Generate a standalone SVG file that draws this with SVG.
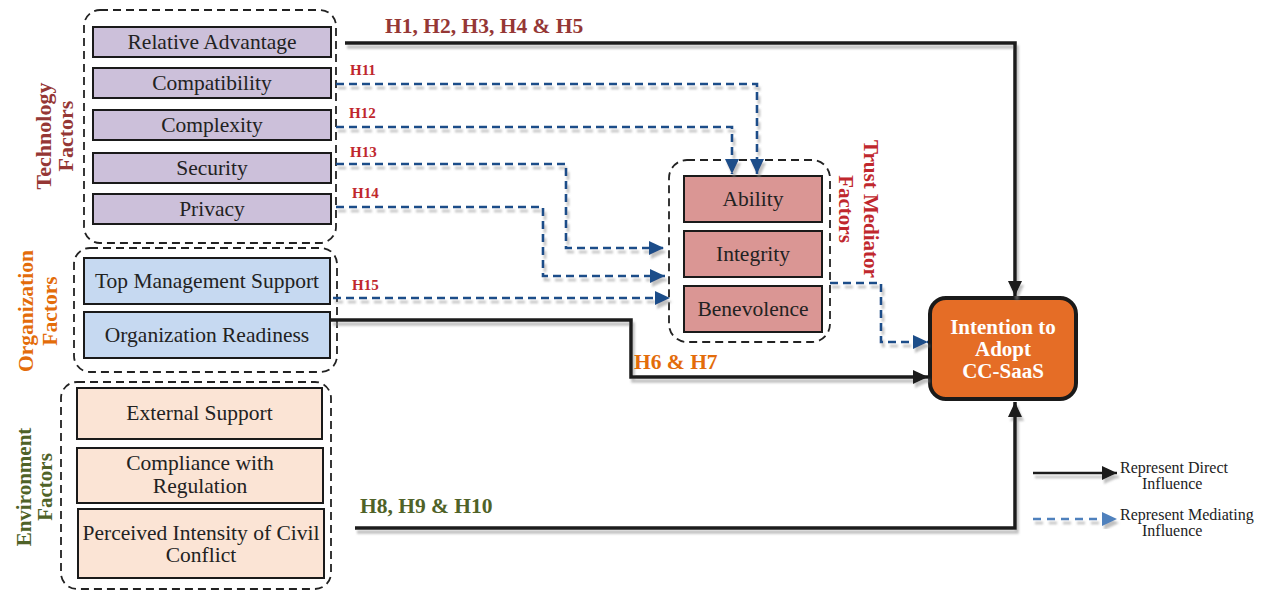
<svg xmlns="http://www.w3.org/2000/svg" width="1264" height="592" viewBox="0 0 1264 592">
<style>
.box{stroke:#1a1a1a;stroke-width:2}
.tech{fill:#ccc0da}
.org{fill:#c6d9f1}
.env{fill:#fbe4d5}
.trust{fill:#da9694}
.cont{fill:none;stroke:#222;stroke-width:1.8;stroke-dasharray:8 5}
.t{font-family:"Liberation Serif","Times New Roman",serif;font-size:21.5px;fill:#222;text-anchor:middle}
.b{font-family:"Liberation Serif","Times New Roman",serif;font-weight:bold;text-anchor:middle}
.hl{font-family:"Liberation Serif","Times New Roman",serif;font-weight:bold}
.solid{fill:none;stroke:#1a1a1a;stroke-width:3.5}
.dash{fill:none;stroke:#1f4e89;stroke-width:2.6;stroke-dasharray:8 5}
.lg{font-family:"Liberation Serif","Times New Roman",serif;font-size:16px;fill:#222}
</style>
<defs>
<marker id="ab" markerUnits="userSpaceOnUse" markerWidth="16" markerHeight="14" refX="15" refY="7" orient="auto"><path d="M0,0 L15,7 L0,14 z" fill="#1a1a1a"/></marker>
<marker id="au" markerUnits="userSpaceOnUse" markerWidth="16" markerHeight="14" refX="15" refY="7" orient="auto"><path d="M0,0 L15,7 L0,14 z" fill="#1f4e89"/></marker>
<marker id="al" markerUnits="userSpaceOnUse" markerWidth="16" markerHeight="14" refX="15" refY="7" orient="auto"><path d="M0,0 L15,7 L0,14 z" fill="#4f81bd"/></marker>
<filter id="sh" x="-5%" y="-20%" width="110%" height="140%"><feDropShadow dx="2" dy="4" stdDeviation="1.2" flood-color="#8c8c8c" flood-opacity="0.55"/></filter>
</defs>

<g id="technology-group">
<rect class="cont" x="84" y="10" width="252" height="233" rx="16"/>
<text class="b" transform="translate(55,136) rotate(-90)" font-size="22" fill="#953735"><tspan x="0" y="-4">Technology</tspan><tspan x="0" y="18">Factors</tspan></text>
</g>
<g id="relative-advantage"><rect class="box tech" x="93" y="27" width="238" height="30"/><text class="t" x="212" y="49">Relative Advantage</text></g>
<g id="compatibility"><rect class="box tech" x="93" y="68" width="238" height="30"/><text class="t" x="212" y="90">Compatibility</text></g>
<g id="complexity"><rect class="box tech" x="93" y="110" width="238" height="30"/><text class="t" x="212" y="132">Complexity</text></g>
<g id="security"><rect class="box tech" x="93" y="153" width="238" height="30"/><text class="t" x="212" y="175">Security</text></g>
<g id="privacy"><rect class="box tech" x="93" y="194" width="238" height="30"/><text class="t" x="212" y="216">Privacy</text></g>

<g id="organization-group">
<rect class="cont" x="74" y="248" width="263" height="124" rx="16"/>
<text class="b" transform="translate(38,311) rotate(-90)" font-size="21.5" fill="#e36c0a"><tspan x="0" y="-5">Organization</tspan><tspan x="0" y="19">Factors</tspan></text>
</g>
<g id="top-management-support"><rect class="box org" x="84" y="258" width="246" height="46"/><text class="t" x="207" y="288">Top Management Support</text></g>
<g id="organization-readiness"><rect class="box org" x="84" y="312" width="246" height="46"/><text class="t" x="207" y="342">Organization Readiness</text></g>

<g id="environment-group">
<rect class="cont" x="61" y="382" width="270" height="207" rx="16"/>
<text class="b" transform="translate(35,487) rotate(-90)" font-size="21" fill="#4f6228"><tspan x="0" y="-4">Environment</tspan><tspan x="0" y="17">Factors</tspan></text>
</g>
<g id="external-support"><rect class="box env" x="77" y="388" width="245" height="51"/><text class="t" x="199.5" y="420">External Support</text></g>
<g id="compliance-with-regulation"><rect class="box env" x="77" y="448" width="246" height="55"/><text class="t" x="200" y="470">Compliance with</text><text class="t" x="200" y="493">Regulation</text></g>
<g id="perceived-intensity"><rect class="box env" x="78" y="509" width="246" height="69"/><text class="t" x="201" y="540">Perceived Intensity of Civil</text><text class="t" x="201" y="562">Conflict</text></g>

<g id="trust-group">
<rect class="cont" x="669" y="160" width="161" height="182" rx="18"/>
<text class="b" transform="translate(858,209) rotate(90)" font-size="21" fill="#c0272d"><tspan x="0" y="-6">Trust Mediator</tspan><tspan x="0" y="19">Factors</tspan></text>
</g>
<g id="ability"><rect class="box trust" x="684" y="176" width="138" height="46"/><text class="t" x="753" y="206">Ability</text></g>
<g id="integrity"><rect class="box trust" x="684" y="231" width="138" height="46"/><text class="t" x="753" y="261">Integrity</text></g>
<g id="benevolence"><rect class="box trust" x="684" y="286" width="138" height="46"/><text class="t" x="753" y="316">Benevolence</text></g>

<g id="intention-to-adopt">
<rect x="930" y="298" width="146" height="101" rx="16" fill="#e56d26" stroke="#1a1a1a" stroke-width="4"/>
<text class="b" font-size="21" fill="#fff"><tspan x="1003" y="334">Intention to</tspan><tspan x="1003" y="356">Adopt</tspan><tspan x="1003" y="378">CC-SaaS</tspan></text>
</g>

<g id="connectors">
<g filter="url(#sh)">
<path class="solid" d="M345,43 H1015 V296" marker-end="url(#ab)"/>
<path class="solid" d="M331,320 H631 V377 H928" marker-end="url(#ab)"/>
<path class="solid" d="M355,528 H1015 V402" marker-end="url(#ab)"/>
<path class="dash" d="M336,84 H757 V174" marker-end="url(#au)"/>
<path class="dash" d="M336,127 H732 V174" marker-end="url(#au)"/>
<path class="dash" d="M336,164 H566 V248 H664" marker-end="url(#au)"/>
<path class="dash" d="M336,207 H543 V276 H665" marker-end="url(#au)"/>
<path class="dash" d="M333,298 H670" marker-end="url(#au)"/>
<path class="dash" d="M830,283 H881 V342 H928" marker-end="url(#au)"/>
</g>
<text class="hl" x="385" y="33" font-size="21.5" fill="#953735">H1, H2, H3, H4 &amp; H5</text>
<text class="hl" x="350" y="75" font-size="15" fill="#c0272d">H11</text>
<text class="hl" x="349" y="118" font-size="15" fill="#c0272d">H12</text>
<text class="hl" x="350" y="157" font-size="15" fill="#c0272d">H13</text>
<text class="hl" x="352" y="198" font-size="15" fill="#c0272d">H14</text>
<text class="hl" x="352" y="290" font-size="15" fill="#c0272d">H15</text>
<text class="hl" x="634" y="369" font-size="21.5" fill="#e36c0a">H6 &amp; H7</text>
<text class="hl" x="360" y="513" font-size="21.5" fill="#4f6228">H8, H9 &amp; H10</text>
</g>

<g id="legend">
<g filter="url(#sh)">
<path d="M1033,473 H1117" fill="none" stroke="#1a1a1a" stroke-width="2.5" marker-end="url(#ab)"/>
<path d="M1033,519 H1117" fill="none" stroke="#4f81bd" stroke-width="2.5" stroke-dasharray="8 6" marker-end="url(#al)"/>
</g>
<text class="lg" x="1120" y="473">Represent Direct</text>
<text class="lg" x="1142" y="489">Influence</text>
<text class="lg" x="1120" y="520">Represent Mediating</text>
<text class="lg" x="1142" y="536">Influence</text>
</g>
</svg>
